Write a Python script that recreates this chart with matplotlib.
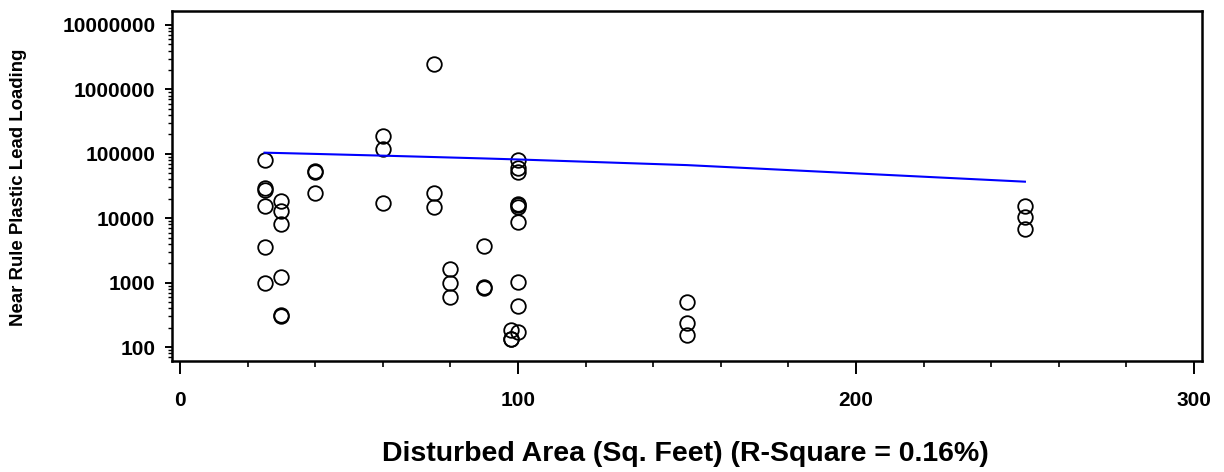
import matplotlib
matplotlib.use("Agg")
import matplotlib.pyplot as plt
import matplotlib.ticker as mticker
import numpy as np

plt.rcParams['font.family'] = ['Liberation Sans', 'DejaVu Sans']
plt.rcParams['font.weight'] = 'bold'

# площадь нарушения и нагрузка свинцом
area = [25, 25, 25, 25, 25, 25,
        30, 30, 30, 30, 30, 30,
        40, 40, 40,
        60, 60, 60,
        75, 75, 75,
        80, 80, 80,
        90, 90, 90,
        98, 98, 98,
        100, 100, 100, 100, 100, 100, 100, 100, 100, 100,
        150, 150, 150,
        250, 250, 250]
loading = [80000, 29100, 27100, 15500, 3530, 975,
           18700, 13100, 8130, 1210, 314, 303,
           54700, 51500, 24900,
           191000, 119000, 17400,
           2455000, 24900, 15100,
           1610, 975, 592,
           3740, 863, 833,
           184, 136, 132,
           80000, 59600, 52700, 16400, 16000, 15100, 8630, 1030, 437, 169,
           505, 238, 157,
           15500, 10500, 6710]

# линия регрессии
fit_x = [25, 30, 40, 60, 75, 80, 90, 98, 100, 150, 250]
fit_y = [104000, 102500, 99500, 93500, 89000, 87500, 84600, 82200, 81600, 66700, 36900]

x_ticks = [0, 100, 200, 300]
y_ticks = [100, 1000, 10000, 100000, 1000000, 10000000]

fig = plt.figure(figsize=(12.24, 4.72), dpi=100)
ax = fig.add_axes([172 / 1224, 1 - 361 / 472, 1030 / 1224, 350 / 472])

ax.plot(area, loading, 'o', markersize=10.5, markerfacecolor='none',
        markeredgecolor='black', markeredgewidth=1.3, linestyle='none')
ax.plot(fit_x, fit_y, color='blue', linewidth=1.5)

ax.set_yscale('log')
ax.set_ylim(10 ** 1.785, 10 ** 7.215)
ax.set_xlim(-2.4, 302.4)

ax.set_xticks(x_ticks)
ax.xaxis.set_minor_locator(mticker.MultipleLocator(20))
ax.set_yticks(y_ticks)
ax.set_yticklabels([str(v) for v in y_ticks])
ax.yaxis.set_minor_locator(mticker.LogLocator(base=10, subs=np.arange(2, 10)))
ax.yaxis.set_minor_formatter(mticker.NullFormatter())

for s in ax.spines.values():
    s.set_linewidth(1.8)

ax.tick_params(axis='x', which='major', length=9.5, width=1.4, pad=12, labelsize=15)
ax.tick_params(axis='x', which='minor', length=4.5, width=1.2)
ax.tick_params(axis='y', which='major', length=5, width=1.4, pad=7, labelsize=15)
ax.tick_params(axis='y', which='minor', length=3, width=1.0)

fig.text(19 / 1224, 1 - 187 / 472, 'Near Rule Plastic Lead Loading',
         rotation=90, ha='center', va='center', fontsize=13.4, fontweight='bold')
fig.text(685 / 1224, 1 - 454 / 472, 'Disturbed Area (Sq. Feet) (R-Square = 0.16%)',
         ha='center', va='center', fontsize=20.5, fontweight='bold')

fig.savefig('out.png', dpi=100)
